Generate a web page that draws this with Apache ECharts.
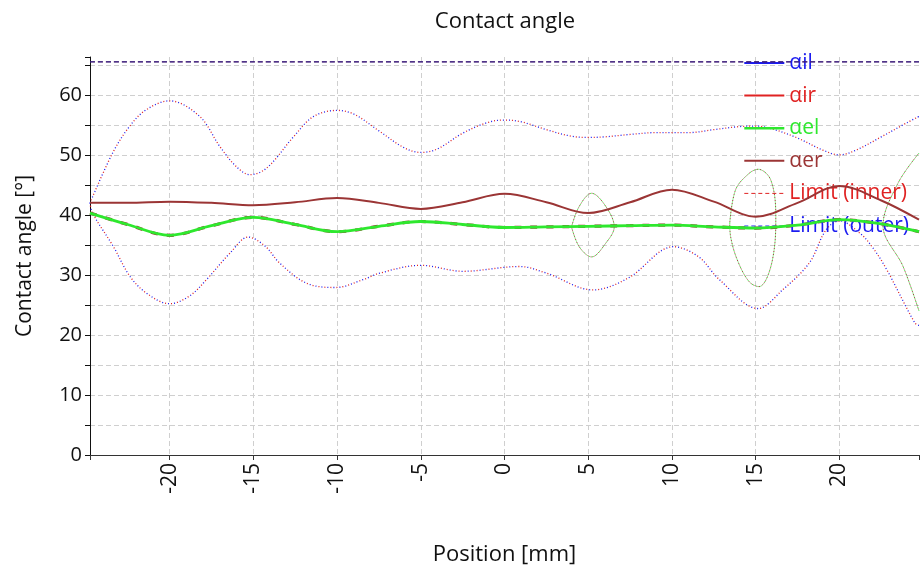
<!DOCTYPE html>
<html>
<head>
<meta charset="utf-8">
<title>Contact angle</title>
<script src="https://cdn.jsdelivr.net/npm/echarts@6/dist/echarts.min.js"></script>
<style>
    html, body { margin: 0; padding: 0; background: #fff; }
    #chart { width: 920px; height: 576px; }
</style>
</head>
<body>
<div id="chart"></div>
<script>
// axis range
const xMin = -24.75;
const xMax = 24.75;
const yMax = 66.3;

// outer envelope (dotted)
const envUpperX = [-24.75, -23.4, -22.4, -21.4, -20, -18.2, -17, -16, -15.2, -14.2, -12.6, -11.4, -10, -9, -7.5, -6, -5, -4, -2.5, -1, 0, 1, 2.5, 4, 5, 6, 7.5, 9, 10, 11, 12.5, 14, 15, 16, 17.5, 19, 20, 21, 22.5, 24, 24.75];
const envUpperY = [42.0, 50.3, 54.7, 57.5, 59.0, 56.4, 51.4, 48.0, 46.7, 47.8, 53.0, 56.4, 57.4, 56.8, 54.0, 51.2, 50.4, 51.0, 53.6, 55.4, 55.8, 55.5, 54.2, 53.1, 52.9, 53.0, 53.4, 53.7, 53.7, 53.7, 54.2, 54.7, 54.8, 54.3, 52.8, 50.8, 50.0, 50.8, 53.0, 55.3, 56.4];
const envLowerX = [-24.75, -24.6, -23.35, -22.35, -21.35, -20, -18.8, -17.8, -16.4, -15.3, -14.3, -13.4, -11.8, -10.1, -8.45, -7.45, -5, -2.5, 0.9, 2.5, 5.3, 7.4, 10.1, 11.6, 12.8, 15.15, 16.6, 18.2, 19.2, 20, 21.2, 22.0, 22.8, 24.5, 24.75];
const envLowerY = [42.0, 40.3, 34.7, 29.7, 26.9, 25.2, 26.5, 29.2, 33.6, 36.3, 34.8, 31.9, 28.6, 27.9, 29.2, 30.3, 31.6, 30.6, 31.4, 30.3, 27.5, 29.5, 34.7, 33.0, 29.3, 24.4, 27.5, 32.0, 37.5, 39.0, 37.0, 34.5, 31.0, 22.0, 21.6];

// main curves
const mainX = [-24.75, -22.5, -20, -17.5, -15, -12.5, -10, -7.5, -5, -2.5, 0, 2.5, 5, 7.5, 10, 12.5, 15, 17.5, 20, 22.5, 24.75];
const elY = [40.3, 38.4, 36.6, 38.2, 39.6, 38.4, 37.2, 38.1, 38.9, 38.4, 37.9, 38.0, 38.1, 38.2, 38.3, 38.0, 37.8, 38.3, 39.2, 38.5, 37.2];
const erY = [42.0, 42.0, 42.2, 42.0, 41.6, 42.1, 42.8, 42.0, 41.0, 42.1, 43.5, 42.1, 40.3, 42.1, 44.2, 42.2, 39.7, 42.0, 44.8, 42.4, 39.2];

// thin dotted loops of the e-curves
const loop1X = [4.0, 4.46, 5.2, 6.05, 6.55, 6.05, 5.2, 4.46, 4.0];
const loop1Y = [38.0, 41.4, 43.6, 41.4, 38.0, 35.3, 33.0, 34.7, 38.0];
const loop2X = [13.45, 13.8, 14.6, 15.15, 15.9, 16.2, 16.1, 15.7, 15.2, 14.6, 13.9, 13.5, 13.45];
const loop2Y = [38.6, 44.2, 46.9, 47.6, 45.8, 39.7, 34.2, 29.7, 28.05, 28.9, 32.5, 36.4, 38.6];
const loop3X = [24.75, 23.5, 22.6, 23.8, 24.75];
const loop3Y = [50.3, 45.3, 38.2, 31.4, 24.0];

// limits
const limitX = [xMin, xMax];
const limitInnerY = [65.5, 65.5];
const limitOuterY = [65.5, 65.5];

const FONT = 'Open Sans';
const BLUE = '#1c1cf0';
const RED = '#e02222';
const GREEN = '#2ee82e';
const BROWN = '#9b3535';

function pts(xs, ys) {
    return xs.map((x, i) => [x, ys[i]]);
}

function line(name, xs, ys, lineStyle, z) {
    return {
        name: name,
        type: 'line',
        data: pts(xs, ys),
        symbol: 'none',
        smooth: 0.35,
        lineStyle: lineStyle,
        z: z || 2,
        silent: true
    };
}

function initChart() {
    const chart = echarts.init(document.getElementById('chart'), null, { renderer: 'canvas' });

    // blue and red dots alternate, so the envelope looks purple
    const dotA = { color: BLUE, width: 1.3, type: [1, 5], dashOffset: 0 };
    const dotB = { color: RED, width: 1.3, type: [1, 5], dashOffset: 3 };
    const thinG = { color: GREEN, width: 1, type: [1, 2], dashOffset: 0 };
    const thinB = { color: BROWN, width: 1, type: [1, 2], dashOffset: 1.5 };

    const series = [
        line('αil', envUpperX, envUpperY, dotA),
        line('αil', envLowerX, envLowerY, dotA),
        line('αir', envUpperX, envUpperY, dotB),
        line('αir', envLowerX, envLowerY, dotB),
        line('αel', loop1X, loop1Y, thinG),
        line('αel', loop2X, loop2Y, thinG),
        line('αel', loop3X, loop3Y, thinG),
        line('αer', loop1X, loop1Y, thinB),
        line('αer', loop2X, loop2Y, thinB),
        line('αer', loop3X, loop3Y, thinB),
        line('αer', mainX, elY, { color: BROWN, width: 3.2, type: [7, 9] }, 3),
        line('αer', mainX, erY, { color: BROWN, width: 2 }, 4),
        line('αel', mainX, elY, { color: GREEN, width: 2.8 }, 5),
        line('Limit (inner)', limitX, limitInnerY, { color: RED, width: 0.8, type: [5, 3] }, 6),
        line('Limit (outer)', limitX, limitOuterY, { color: '#1a1a8c', width: 1.3, type: [5, 3] }, 7)
    ];

    const legendItems = [
        { name: 'αil', color: BLUE, lineStyle: { color: BLUE, width: 2, type: 'solid' } },
        { name: 'αir', color: RED, lineStyle: { color: RED, width: 2, type: 'solid' } },
        { name: 'αel', color: GREEN, lineStyle: { color: GREEN, width: 2.6, type: 'solid' } },
        { name: 'αer', color: BROWN, lineStyle: { color: BROWN, width: 2, type: 'solid' } },
        { name: 'Limit (inner)', color: RED, lineStyle: { color: RED, width: 1, type: [4, 3] } },
        { name: 'Limit (outer)', color: BLUE, lineStyle: { color: BLUE, width: 1, type: [4, 3] } }
    ];

    const gridLine = { show: true, lineStyle: { color: '#cfcfcf', width: 1, type: [5, 3] }, showMinLine: false, showMaxLine: false };

    const option = {
        backgroundColor: '#ffffff',
        animation: false,
        textStyle: { fontFamily: FONT },
        title: {
            text: 'Contact angle',
            left: 500,
            top: 6,
            textAlign: 'center',
            textStyle: { fontFamily: FONT, fontSize: 22, fontWeight: 'normal', color: '#111' }
        },
        legend: {
            orient: 'vertical',
            left: 743,
            top: 52,
            itemWidth: 40,
            itemHeight: 12,
            itemGap: 10.6,
            padding: 0,
            selectedMode: false,
            data: legendItems.map(it => ({
                name: it.name,
                lineStyle: it.lineStyle,
                // hide the marker dot, keep only the line
                itemStyle: { color: 'rgba(0,0,0,0)', borderColor: 'rgba(0,0,0,0)', borderWidth: 0, opacity: 0 },
                textStyle: { color: it.color }
            })),
            textStyle: { fontFamily: FONT, fontSize: 21, lineHeight: 22 }
        },
        grid: { left: 90, right: 1, top: 57, bottom: 121, containLabel: false },
        xAxis: {
            type: 'value',
            min: xMin,
            max: xMax,
            splitNumber: 10,
            name: 'Position [mm]',
            nameLocation: 'middle',
            nameGap: 89,
            nameTextStyle: { fontFamily: FONT, fontSize: 22, color: '#111' },
            axisLine: { onZero: false, lineStyle: { color: '#333', width: 1 } },
            axisTick: { show: true, inside: false, length: 5, lineStyle: { color: '#333' } },
            axisLabel: {
                rotate: 90,
                margin: 8,
                fontFamily: FONT,
                fontSize: 21,
                color: '#111',
                formatter: v => (Math.abs(v % 5) < 1e-6 ? String(v) : '')
            },
            splitLine: gridLine
        },
        yAxis: {
            type: 'value',
            min: 0,
            max: yMax,
            interval: 5,
            name: 'Contact angle [°]',
            nameLocation: 'middle',
            nameGap: 54,
            nameTextStyle: { fontFamily: FONT, fontSize: 21, color: '#111' },
            axisLine: { show: true, onZero: false, lineStyle: { color: '#111', width: 1 } },
            axisTick: { show: true, inside: false, length: 5, lineStyle: { color: '#111' } },
            axisLabel: {
                margin: 8,
                fontFamily: FONT,
                fontSize: 20,
                color: '#111',
                formatter: v => (Math.abs(v % 10) < 1e-6 ? String(v) : '')
            },
            splitLine: gridLine
        },
        series: series
    };

    chart.setOption(option);
}

document.addEventListener('DOMContentLoaded', initChart);
</script>
</body>
</html>
